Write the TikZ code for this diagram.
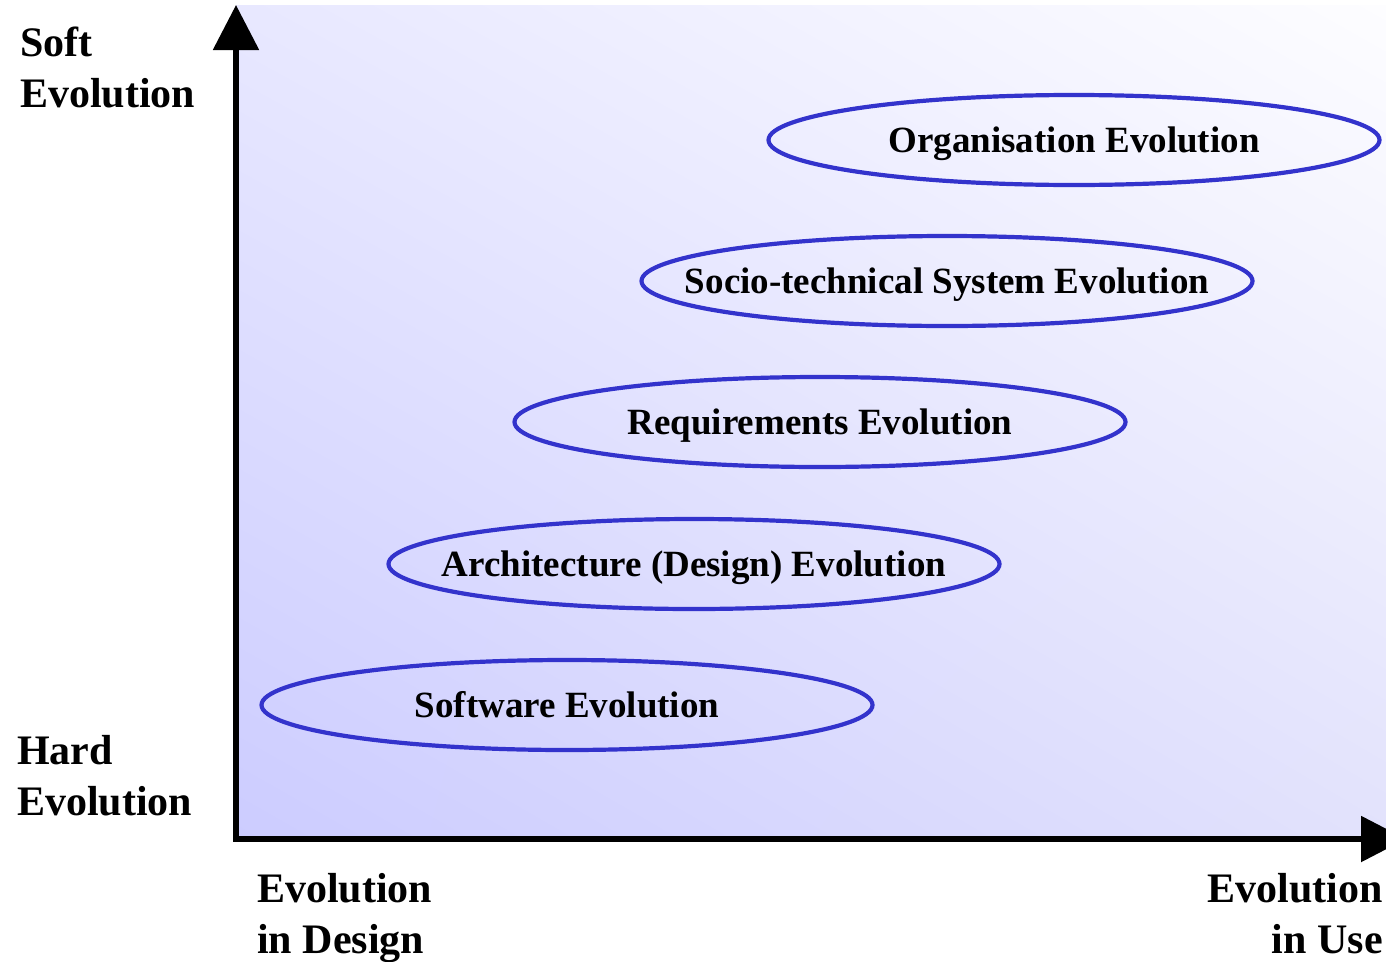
\documentclass[tikz,border=0pt]{standalone}
\usepackage{fontspec}
\setmainfont{Liberation Serif}
\usetikzlibrary{arrows.meta,shapes.geometric,shadings}
\definecolor{ellblue}{RGB}{51,51,204}
\definecolor{bgll}{RGB}{204,204,255}
\definecolor{bgul}{RGB}{232,232,255}
\definecolor{bglr}{RGB}{226,226,252}
\definecolor{bgur}{RGB}{253,253,255}
\tikzset{
  evo/.style={ellipse, draw=ellblue, line width=4.2pt, minimum width=611pt, minimum height=90pt,
    inner sep=0pt, font=\fontsize{37}{44}\selectfont\bfseries, text height=24.5pt, text depth=0pt},
  axislabel/.style={font=\fontsize{42}{51}\selectfont\bfseries, inner sep=0pt},
  axis/.style={line width=5.5pt, -{Triangle[length=45pt,width=45pt]}}
}
\newcommand{\evotxt}[1]{\makebox[0pt][c]{#1}}
\begin{document}
\begin{tikzpicture}[x=1pt,y=-1pt]
\useasboundingbox (0,0) rectangle (1386,961);
\clip (0,0) rectangle (1386,961);
\shade[upper left=bgul, upper right=bgur, lower left=bgll, lower right=bglr] (236,5) rectangle (1386,839);
\coordinate (origin) at (236,839);
\coordinate (ytop) at (236,5);
\coordinate (xend) at (1406,839);
\draw[axis] (236,841.75) -- (ytop);
\draw[axis] (origin) -- (xend);
\node[evo] (org) at (1074,140) {\evotxt{Organisation Evolution}};
\node[evo] (socio) at (947,281) {\evotxt{Socio-technical System Evolution}};
\node[evo] (req) at (820,422) {\evotxt{Requirements Evolution}};
\node[evo] (arch) at (694,564) {\evotxt{Architecture (Design) Evolution}};
\node[evo] (soft) at (567,705) {\evotxt{Software Evolution}};
\node[axislabel, anchor=base west, align=left] (softlbl) at (20,107) {Soft\\Evolution};
\node[axislabel, anchor=base west, align=left] (hardlbl) at (17,815) {Hard\\Evolution};
\node[axislabel, anchor=base west, align=left] (design) at (257,953) {Evolution\\in Design};
\node[axislabel, anchor=base east, align=right] (use) at (1383,953) {Evolution\\in Use};
\end{tikzpicture}
\end{document}
